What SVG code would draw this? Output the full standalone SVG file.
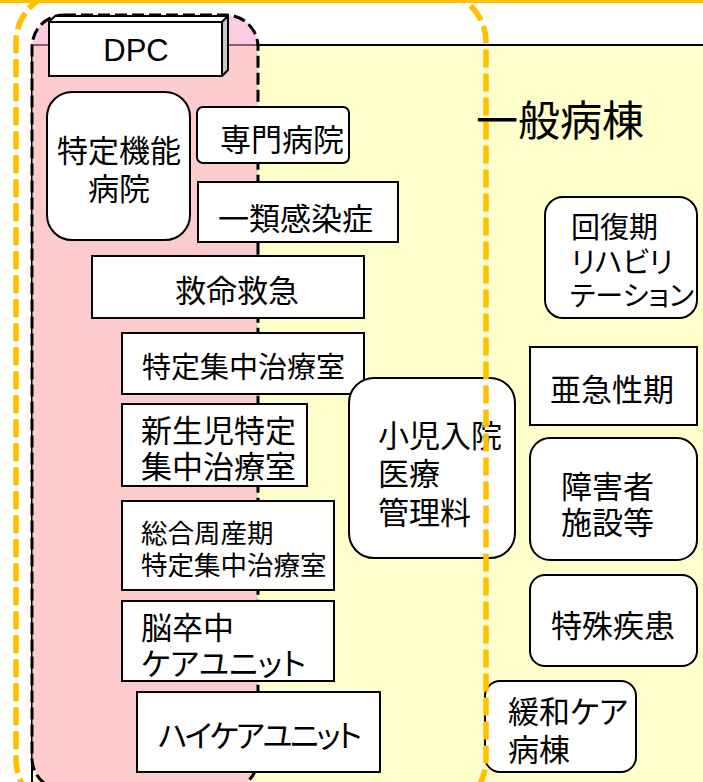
<svg xmlns="http://www.w3.org/2000/svg" width="703" height="782" viewBox="0 0 703 782">
<style>
.t{font-family:"Noto Sans CJK JP","Noto Sans",sans-serif;font-size:31px;fill:#000;dominant-baseline:central}
.k{font-feature-settings:"palt"}
.s{font-size:26.5px}
.box{fill:#fff;stroke:#000;stroke-width:2}
</style>
<rect width="703" height="782" fill="#fff"/>
<g id="panel">
<rect x="32" y="45" width="690" height="760" fill="#FFFFCC" stroke="#000" stroke-width="2"/>
</g>
<g id="dpc-area">
<rect x="32" y="15" width="226" height="775" rx="32" fill="rgb(250,162,204)" fill-opacity="0.55"/>
<rect x="32" y="15" width="226" height="775" rx="32" fill="none" stroke="#000" stroke-width="3" stroke-dasharray="12 5"/>
</g>
<g id="dpc">
<polygon points="49,22 55,16 228,16 222,22" fill="#fff" stroke="#000" stroke-width="2" stroke-linejoin="round"/>
<polygon points="222,22 228,16 228,70 222,76" fill="#C8C8C8" stroke="#000" stroke-width="2" stroke-linejoin="round"/>
<rect x="49" y="22" width="173" height="54" fill="#fff" stroke="#000" stroke-width="2"/>
<text x="136" y="61" text-anchor="middle" font-family="Liberation Sans,Arial,sans-serif" font-size="31">DPC</text>
</g>
<g id="n-tokutei-kino"><rect class="box" x="47" y="92" width="143" height="148" rx="25"/>
<text class="t" x="119" y="148" text-anchor="middle">特定機能</text><text class="t" x="119" y="186" text-anchor="middle">病院</text></g>
<g id="n-senmon"><rect class="box" x="197" y="107" width="152" height="56" rx="6"/>
<text class="t" x="220" y="137">専門病院</text></g>
<g id="n-ichirui"><rect class="box" x="198" y="182" width="200" height="60"/>
<text class="t" x="218" y="216">一類感染症</text></g>
<g id="n-kyumei"><rect class="box" x="92" y="256" width="272" height="62"/>
<text class="t" x="175" y="288">救命救急</text></g>
<g id="n-icu"><rect class="box" x="122" y="333" width="242" height="61"/>
<text class="t" x="142" y="365" style="font-size:29px">特定集中治療室</text></g>
<g id="n-nicu"><rect class="box" x="122" y="404" width="185" height="82"/>
<text class="t" x="141" y="428">新生児特定</text><text class="t" x="141" y="464">集中治療室</text></g>
<g id="n-mficu"><rect class="box" x="122" y="501" width="212" height="89"/>
<text class="t s" x="141" y="531">総合周産期</text><text class="t s" x="141" y="563">特定集中治療室</text></g>
<g id="n-scu"><rect class="box" x="122" y="601" width="212" height="80"/>
<text class="t" x="141" y="625">脳卒中</text><text class="t k" x="141" y="661">ケアユニット</text></g>
<g id="n-hcu"><rect class="box" x="137" y="692" width="243" height="80"/>
<text class="t k" x="158" y="733" style="letter-spacing:-2.5px">ハイケアユニット</text></g>
<g id="n-shoni"><rect class="box" x="349" y="378" width="166" height="180" rx="25"/>
<text class="t" x="378" y="433">小児入院</text><text class="t" x="378" y="471">医療</text><text class="t" x="378" y="510">管理料</text></g>
<g id="n-kaifuku"><rect class="box" x="545" y="197" width="152" height="121" rx="18"/>
<text class="t" x="571" y="225" style="font-size:29px">回復期</text><text class="t k" x="571" y="260" style="font-size:29px">リハビリ</text><text class="t k" x="570" y="294" style="font-size:28px">テーション</text></g>
<g id="n-akyusei"><rect class="box" x="530" y="347" width="167" height="78"/>
<text class="t" x="550" y="387">亜急性期</text></g>
<g id="n-shogai"><rect class="box" x="530" y="438" width="167" height="122" rx="20"/>
<text class="t" x="561" y="484">障害者</text><text class="t" x="561" y="520">施設等</text></g>
<g id="n-tokushu"><rect class="box" x="530" y="575" width="167" height="91" rx="15"/>
<text class="t" x="551" y="623">特殊疾患</text></g>
<g id="n-kanwa"><rect class="box" x="485" y="681" width="151" height="91" rx="15"/>
<text class="t k" x="508" y="709">緩和ケア</text><text class="t" x="508" y="747">病棟</text></g>
<g id="ippan-area">
<rect x="0" y="0" width="703" height="3" fill="#FFC000"/>
<rect x="16" y="-8" width="470" height="818" rx="50" fill="none" stroke="#FFC000" stroke-width="5.5" stroke-dasharray="18 6"/>
<text class="t" x="476" y="117" style="font-size:42px">一般病棟</text>
</g>
<g id="connectors"></g>
</svg>
